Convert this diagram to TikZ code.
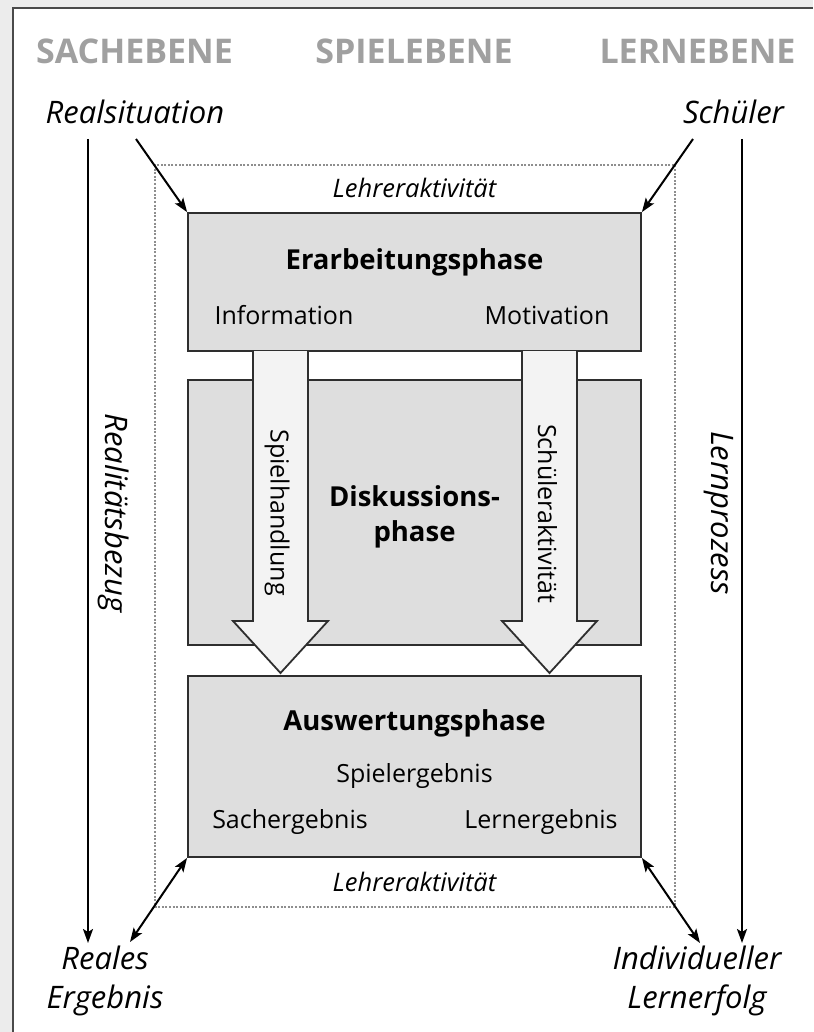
\documentclass[tikz,border=0pt]{standalone}
\usepackage{fontspec}
\setmainfont{Open Sans}
\usepackage{tikz}
\usetikzlibrary{arrows.meta}
\usetikzlibrary{positioning}

\definecolor{bggray}{HTML}{ECECEC}
\definecolor{framegray}{HTML}{4A4A4A}
\definecolor{headgray}{HTML}{A0A0A0}
\definecolor{boxfill}{HTML}{DEDEDE}
\definecolor{boxline}{HTML}{2E2E2E}
\definecolor{arrowfill}{HTML}{F3F3F3}
\definecolor{dotgray}{HTML}{8E8E8E}

\begin{document}
\begin{tikzpicture}
[x=1pt, y=-1pt, >={Stealth[length=14pt, width=10pt, inset=3pt]},
phase/.style   ={rectangle, draw=boxline, fill=boxfill, line width=1.8pt, minimum width=453pt},
                    head/.style    ={font=\fontsize{34}{40}\selectfont\bfseries, text=headgray, anchor=base},
                    side/.style    ={font=\fontsize{31}{39}\selectfont\itshape, align=center, inner sep=0pt},
                    teach/.style   ={font=\fontsize{25.5}{30}\selectfont\itshape, inner sep=0pt},
                    title/.style   ={font=\fontsize{27.5}{35}\selectfont\bfseries, align=center, inner sep=0pt},
                    item/.style    ={font=\fontsize{25}{30}\selectfont, inner sep=0pt},
                    blockarrow/.style={draw=boxline, fill=arrowfill, line width=1.8pt},
                    line/.style    ={draw, line width=2pt, ->},
                    both/.style    ={draw, line width=2pt, <->},
                    node distance = .5cm,
                    auto]

% background and frame
\useasboundingbox (0,0) rectangle (813,1032);
\fill[bggray] (0,0) rectangle (813,1032);
\fill[white] (13,8) rectangle (813,1032);
\draw[framegray, line width=2pt] (13,1032) -- (13,8) -- (813,8);

% levels
\node[head] (sache) at (134.5,64) {SACHEBENE};
\node[head] (spiel) at (414,64) {SPIELEBENE};
\node[head] (lern) at (697.5,64) {LERNEBENE};

\node[side, anchor=base] (realsit) at (135,124) {Realsituation};
\node[side, anchor=base] (schueler) at (733.5,124) {Schüler};

% teacher frame
\draw[dotgray, line width=2pt, dash pattern=on 2pt off 1.6pt] (155,165) rectangle (675,907);

\node[phase, minimum height=138pt] (erarb) at (414.5,282) {};
\node[phase, minimum height=265pt] (disk) at (414.5,512.5) {};
\node[phase, minimum height=181pt] (ausw) at (414.5,766.5) {};

\node[teach, above=14pt of erarb] (lehrtop) {Lehreraktivität};
\node[teach, below=14pt of ausw] (lehrbot) {Lehreraktivität};

\node[title, anchor=base] (erarbtitle) at (414.5,269) {Erarbeitungsphase};
\node[item, anchor=base] (info) at (284,324) {Information};
\node[item, anchor=base] (motiv) at (547,324) {Motivation};

\node[title] (disktitle) at (414.5,517) {Diskussions-\\phase};

\node[title, anchor=base] (auswtitle) at (414.5,730) {Auswertungsphase};
\node[item, anchor=base] (spielerg) at (414.5,782) {Spielergebnis};
\node[item, anchor=base] (sacherg) at (290,828) {Sachergebnis};
\node[item, anchor=base] (lernerg) at (541,828) {Lernergebnis};

% block arrows
\path[blockarrow] (253,351) -- (253,621) -- (233,621) -- (280.5,673) -- (328,621) -- (308,621) -- (308,351);
\path[blockarrow] (522,351) -- (522,621) -- (502,621) -- (549.5,673) -- (597,621) -- (577,621) -- (577,351);
\node[item, rotate=-90] (handlung) at (277,512.5) {Spielhandlung};
\node[item, rotate=-90] (aktiv) at (547.5,513.5) {Schüleraktivität};

% side axes
\coordinate (realtop) at (88,139);
\coordinate (realbot) at (88,943);
\coordinate (lerntop) at (742,139);
\coordinate (lernbot) at (742,943);
\node[side, rotate=-90] (bezug) at (113.5,513) {Realitätsbezug};
\node[side, rotate=-90] (prozess) at (718.5,513) {Lernprozess};

\node[side] (reales) at (105,981) {Reales\\Ergebnis};
\node[side] (erfolg) at (697,981) {Individueller\\Lernerfolg};

\coordinate (realin) at (136,139);
\coordinate (schuelin) at (693,139);
\coordinate (realout) at (130,942);
\coordinate (erfolgout) at (700,943);

\path[line] (realtop) -- (realbot);
\path[line] (lerntop) -- (lernbot);
\path[line] (realin) -- (erarb.north west);
\path[line] (schuelin) -- (erarb.north east);
\path[both] (realout) -- (ausw.south west);
\path[both] (ausw.south east) -- (erfolgout);
  \end{tikzpicture}
\end{document}
